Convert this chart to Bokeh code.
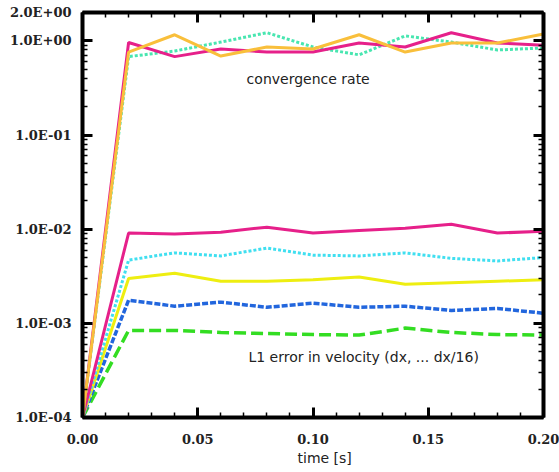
from bokeh.plotting import figure
from bokeh.models import Range1d, LinearAxis, LogAxis, FixedTicker, Label, Title
from bokeh.embed import file_html
from bokeh.resources import INLINE

# ---- data -------------------------------------------------------------
time = [0.00, 0.02, 0.04, 0.06, 0.08, 0.10, 0.12, 0.14, 0.16, 0.18, 0.20]

# convergence rate curves
rate_magenta = [1e-4, 0.96, 0.68, 0.82, 0.76, 0.76, 0.95, 0.86, 1.22, 0.95, 0.90]
rate_orange = [1e-4, 0.76, 1.16, 0.69, 0.86, 0.82, 1.16, 0.76, 0.95, 0.95, 1.18]
rate_aqua = [1e-4, 0.68, 0.78, 0.97, 1.22, 0.86, 0.71, 1.13, 0.97, 0.80, 0.84]

# L1 error in velocity (dx ... dx/16)
err_dx = [1e-4, 0.0091, 0.0089, 0.0093, 0.0105, 0.0091, 0.0097, 0.0102, 0.0113, 0.0091, 0.0095]
err_dx2 = [1e-4, 0.0047, 0.0056, 0.0052, 0.0063, 0.0053, 0.0052, 0.0056, 0.0049, 0.0046, 0.0050]
err_dx4 = [1e-4, 0.0030, 0.0034, 0.0028, 0.0028, 0.0029, 0.0031, 0.0026, 0.0027, 0.0028, 0.0029]
err_dx8 = [1e-4, 0.00176, 0.00152, 0.00168, 0.00148, 0.00164, 0.00148, 0.00152, 0.00137, 0.00144, 0.00128]
err_dx16 = [1e-4, 0.00084, 0.00084, 0.00080, 0.00078, 0.00076, 0.00075, 0.00089, 0.00080, 0.00076, 0.00075]

x_ticks = [0.00, 0.05, 0.10, 0.15, 0.20]
x_tick_labels = ["0.00", "0.05", "0.10", "0.15", "0.20"]
y_ticks = [1e-4, 1e-3, 1e-2, 1e-1, 1.0, 2.0]
y_tick_labels = ["1.0E-04", "1.0E-03", "1.0E-02", "1.0E-01", "1.0E+00", "2.0E+00"]

x_label = "time [s]"
rate_text = "convergence rate"
err_text = "L1 error in velocity (dx, ... dx/16)"

# ---- figure -----------------------------------------------------------
x_minor = [i * 0.01 for i in range(21)]
y_minor = [m * 10.0 ** e for e in range(-4, 1) for m in range(1, 10)]

p = figure(width=559, height=472,
           x_range=Range1d(0.0, 0.2), y_range=Range1d(1e-4, 2.0),
           y_axis_type="log", output_backend="svg", toolbar_location=None,
           min_border_left=82, min_border_right=16,
           min_border_top=12, min_border_bottom=55)
p.grid.visible = False
p.outline_line_color = None
p.background_fill_color = "white"
p.border_fill_color = "white"

bottom = p.below[0]
left = p.left[0]

bottom.ticker = FixedTicker(ticks=x_ticks, minor_ticks=x_minor)
left.ticker = FixedTicker(ticks=y_ticks, minor_ticks=y_minor)
bottom.major_label_overrides = dict(zip(x_ticks, x_tick_labels))
left.major_label_overrides = dict(zip(y_ticks, y_tick_labels))

top = LinearAxis(ticker=FixedTicker(ticks=x_ticks, minor_ticks=x_minor))
right = LogAxis(ticker=FixedTicker(ticks=y_ticks, minor_ticks=y_minor))
p.add_layout(top, "above")
p.add_layout(right, "right")

for ax in [bottom, left, top, right]:
    ax.axis_line_width = 4
    ax.axis_line_color = "black"
    ax.major_tick_in = 10
    ax.major_tick_out = 0
    ax.major_tick_line_width = 3
    ax.major_tick_line_color = "black"
    ax.minor_tick_in = 5
    ax.minor_tick_out = 0
    ax.minor_tick_line_width = 1.5
    ax.minor_tick_line_color = "black"
    ax.major_label_text_font = "DejaVu Serif"
    ax.major_label_text_font_style = "bold"
    ax.major_label_text_font_size = "13px"
    ax.major_label_text_color = "#222222"

for ax in [top, right]:
    ax.major_label_text_font_size = "0px"
    ax.major_label_standoff = 0
    ax.major_label_text_color = None

bottom.major_label_standoff = 16
left.major_label_standoff = 11

# ---- lines ------------------------------------------------------------
p.line(time, err_dx16, line_color="#33dd22", line_width=3.5, line_dash="12 5")
p.line(time, err_dx8, line_color="#2266dd", line_width=3.5, line_dash="6 2")
p.line(time, err_dx4, line_color="#eeee11", line_width=3)
p.line(time, err_dx2, line_color="#40dff0", line_width=3, line_dash="3 2")
p.line(time, err_dx, line_color="#e6208a", line_width=3)

p.line(time, rate_aqua, line_color="#48e6b0", line_width=3, line_dash="3 2")
p.line(time, rate_magenta, line_color="#e6208a", line_width=3)
p.line(time, rate_orange, line_color="#f9bf3b", line_width=3)

# ---- texts ------------------------------------------------------------
p.add_layout(Label(x=0.0712, y=0.394, text=rate_text, text_font="DejaVu Sans",
                   text_font_size="14px", text_color="#222222",
                   text_baseline="middle", text_align="left"))
p.add_layout(Label(x=0.0720, y=4.34e-4, text=err_text, text_font="DejaVu Sans",
                   text_font_size="14px", text_color="#222222",
                   text_baseline="middle", text_align="left"))
p.add_layout(Title(text=x_label, align="left", offset=215, standoff=3,
                   text_font="DejaVu Sans", text_font_size="14px",
                   text_font_style="normal", text_color="#222222"), "below")

open("out.html", "w").write(file_html(p, INLINE))
